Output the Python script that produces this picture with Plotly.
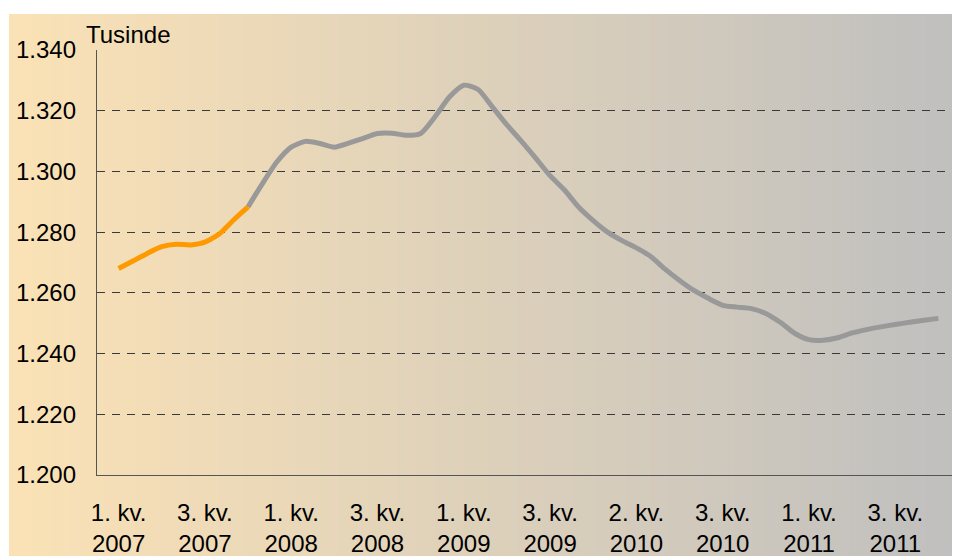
import plotly.graph_objects as go

# Monthly categories Jan 2007 - Dec 2011
months = [f"{y}-{m:02d}" for y in range(2007, 2012) for m in range(1, 13)]

# Values in thousands
orange_months = months[1:11]
orange_vals = [1268.0, 1270.5, 1273.0, 1275.2, 1276.0, 1275.8, 1276.7, 1279.4, 1284.0, 1288.3]

gray_months = months[10:59]
gray_vals = [1288.3, 1296.0, 1303.1, 1308.0, 1309.9, 1309.2, 1308.0, 1309.3, 1310.9,
             1312.5, 1312.6, 1311.9, 1312.5, 1318.0, 1324.5, 1328.4, 1327.0, 1321.2,
             1315.3, 1310.0, 1304.4, 1298.6, 1293.9, 1288.2, 1283.8, 1280.0, 1277.2,
             1274.8, 1272.0, 1267.8, 1264.1, 1260.8, 1258.2, 1255.9, 1255.3, 1254.8,
             1253.2, 1250.3, 1246.7, 1244.6, 1244.4, 1245.2, 1246.8, 1247.9, 1248.8,
             1249.6, 1250.3, 1251.0, 1251.6]

tick_months = [months[i] for i in (1, 7, 13, 19, 25, 31, 37, 43, 49, 55)]
tick_text = ["1. kv.<br>2007", "3. kv.<br>2007", "1. kv.<br>2008", "3. kv.<br>2008",
             "1. kv.<br>2009", "3. kv.<br>2009", "2. kv.<br>2010", "3. kv.<br>2010",
             "1. kv.<br>2011", "3. kv.<br>2011"]
y_ticks = [1200, 1220, 1240, 1260, 1280, 1300, 1320, 1340]

# page has an 8px body margin: work in figure coordinates = page - 8
OFF = 8
W, H = 960, 556
L = 97 - OFF
T = 50 - OFF
plot_right = 960 - OFF
plot_bottom = 475 - OFF
R = W - plot_right
B = H - plot_bottom
pw, ph = W - L - R, H - T - B

fig = go.Figure()
fig.add_trace(go.Scatter(x=gray_months, y=gray_vals, mode="lines",
                         line=dict(color="#999999", width=5, shape="spline", smoothing=0.6),
                         hoverinfo="skip", showlegend=False))
fig.add_trace(go.Scatter(x=orange_months, y=orange_vals, mode="lines",
                         line=dict(color="#FF9900", width=5, shape="spline", smoothing=0.6),
                         hoverinfo="skip", showlegend=False))

# gradient background strips
c0 = (251, 226, 182)
c1 = (191, 191, 191)
x_start_px, x_end_px = 9 - OFF, W
y_top_px, y_bot_px = 14 - OFF, H
n = 160
shapes = []
for k in range(n):
    a = x_start_px + (x_end_px - x_start_px) * k / n
    b = x_start_px + (x_end_px - x_start_px) * (k + 1) / n + 0.8
    t = k / (n - 1)
    col = tuple(round(c0[j] + (c1[j] - c0[j]) * t) for j in range(3))
    shapes.append(dict(type="rect", xref="paper", yref="paper", layer="below",
                       x0=(a - L) / pw, x1=(min(b, W) - L) / pw,
                       y0=(plot_bottom - y_bot_px) / ph, y1=(plot_bottom - y_top_px) / ph,
                       fillcolor=f"rgb{col}", line=dict(width=0)))

fig.update_layout(
    width=W, height=H,
    margin=dict(l=L, r=R, t=T, b=B, autoexpand=False),
    paper_bgcolor="white", plot_bgcolor="rgba(0,0,0,0)",
    separators=",.",
    font=dict(family="Liberation Sans, Arial", size=24, color="black"),
    shapes=shapes,
    xaxis=dict(type="category", categoryorder="array", categoryarray=months,
               range=[-0.5, 59.5], tickmode="array", tickvals=tick_months, ticktext=tick_text,
               showgrid=False, showline=True, linecolor="#555555", linewidth=1.3,
               ticks="outside", ticklen=16, tickcolor="rgba(0,0,0,0)", zeroline=False),
    yaxis=dict(range=[1200, 1340], tickmode="array", tickvals=y_ticks, tickformat=",.0f",
               showgrid=True, gridcolor="#3a3a3a", gridwidth=1.3, griddash="8px,7px",
               showline=True, linecolor="#555555", linewidth=1.3,
               ticks="outside", ticklen=15, tickcolor="rgba(0,0,0,0)", zeroline=False),
    annotations=[dict(text="Tusinde", xref="paper", yref="paper",
                      x=(84 - OFF - L) / pw, y=(plot_bottom - (35 - OFF)) / ph,
                      xanchor="left", yanchor="middle",
                      showarrow=False, font=dict(size=24))],
)

fig.write_html("out.html")
